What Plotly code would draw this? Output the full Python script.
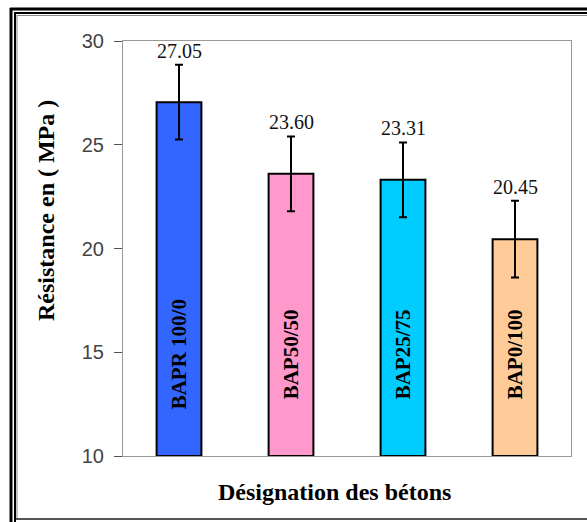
import plotly.graph_objects as go

# Compressive strength of the concretes (MPa) with standard deviation
categories = ["BAPR 100/0", "BAP50/50", "BAP25/75", "BAP0/100"]
resistance = [27.05, 23.60, 23.31, 20.45]
ecart_type = [1.80, 1.80, 1.80, 1.85]
bar_colors = ["#3366FF", "#FF99CC", "#00CCFF", "#FFCC99"]
y_ticks = [10, 15, 20, 25, 30]

W, H = 587, 522
ML, MR, MT, MB = 123, 16, 41, 66
PW, PH = W - ML - MR, H - MT - MB


def px_x(px):
    return (px - ML) / PW


def px_y(py):
    return (H - MB - py) / PH


serif = "Liberation Serif, Times New Roman, serif"

fig = go.Figure()
fig.add_trace(go.Bar(
    x=categories,
    y=[v - 10 for v in resistance],
    base=10,
    width=0.40,
    marker=dict(color=bar_colors, line=dict(color="#000000", width=2)),
    error_y=dict(type="data", array=ecart_type, color="#000000",
                 thickness=2, width=4),
    hoverinfo="skip",
))

annotations = []
for cat, v, e in zip(categories, resistance, ecart_type):
    # value label above the error bar
    annotations.append(dict(
        x=cat, y=v + e, xref="x", yref="y", text=f"{v:.2f}",
        showarrow=False, yanchor="middle", yshift=14,
        font=dict(family=serif, size=20, color="#111111"),
    ))
    # vertical series name inside the bar
    annotations.append(dict(
        x=cat, y=14.9, xref="x", yref="y", text=f"<b>{cat}</b>",
        showarrow=False, textangle=-90, xanchor="center", yanchor="middle",
        font=dict(family=serif, size=21, color="#000000"),
    ))

annotations.append(dict(
    x=px_x(46), y=px_y(211), xref="paper", yref="paper",
    xanchor="center", yanchor="middle",
    text="<b>Résistance en ( MPa )</b>", showarrow=False, textangle=-90,
    font=dict(family=serif, size=24, color="#000000"),
))
annotations.append(dict(
    x=px_x(334), y=px_y(492), xref="paper", yref="paper",
    xanchor="center", yanchor="middle",
    text="<b>Désignation des bétons</b>", showarrow=False,
    font=dict(family=serif, size=24, color="#000000"),
))

# double frame around the whole figure
shapes = [
    dict(type="line", xref="paper", yref="paper", x0=px_x(11), x1=px_x(11),
         y0=px_y(8), y1=px_y(H), line=dict(color="#000000", width=3)),
    dict(type="line", xref="paper", yref="paper", x0=px_x(10), x1=px_x(W),
         y0=px_y(9), y1=px_y(9), line=dict(color="#000000", width=3)),
    dict(type="line", xref="paper", yref="paper", x0=px_x(15), x1=px_x(15),
         y0=px_y(12), y1=px_y(H), line=dict(color="#000000", width=2)),
    dict(type="line", xref="paper", yref="paper", x0=px_x(14), x1=px_x(W),
         y0=px_y(13), y1=px_y(13), line=dict(color="#000000", width=2)),
    dict(type="line", xref="paper", yref="paper", x0=px_x(17), x1=px_x(17),
         y0=px_y(15), y1=px_y(519), line=dict(color="#888888", width=1)),
    dict(type="line", xref="paper", yref="paper", x0=px_x(17), x1=px_x(W),
         y0=px_y(15.5), y1=px_y(15.5), line=dict(color="#888888", width=1)),
    dict(type="line", xref="paper", yref="paper", x0=px_x(16), x1=px_x(W),
         y0=px_y(519), y1=px_y(519), line=dict(color="#555555", width=2)),
]

fig.update_layout(
    width=W, height=H,
    margin=dict(l=ML, r=MR, t=MT, b=MB),
    paper_bgcolor="#FFFFFF", plot_bgcolor="#FFFFFF",
    showlegend=False,
    annotations=annotations,
    shapes=shapes,
    xaxis=dict(
        range=[-0.5, 3.5], showticklabels=False, ticks="",
        showgrid=False, zeroline=False,
        showline=True, linecolor="#999999", linewidth=1, mirror=True,
    ),
    yaxis=dict(
        range=[10, 30], tickvals=y_ticks, ticks="outside", ticklen=8,
        tickcolor="#555555", tickwidth=1, ticklabelstandoff=6,
        tickfont=dict(family="Liberation Sans, Arial, sans-serif", size=20,
                      color="#444444"),
        showgrid=False, zeroline=False,
        showline=True, linecolor="#999999", linewidth=1, mirror=True,
    ),
)

fig.write_html("out.html")
